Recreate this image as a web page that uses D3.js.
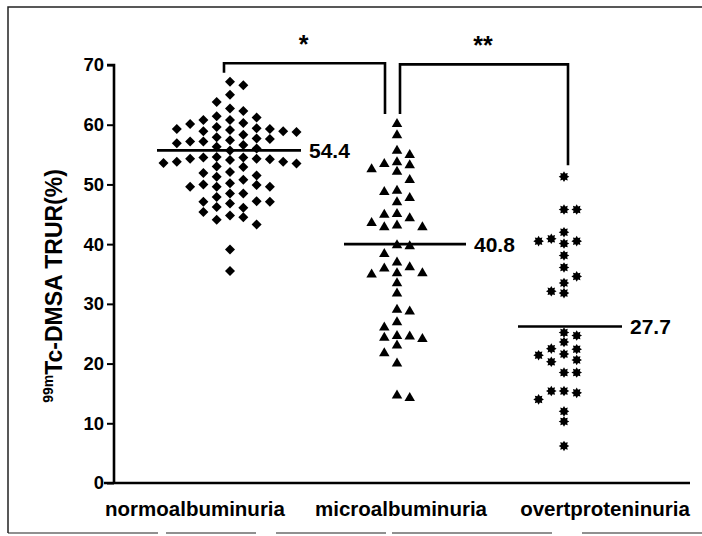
<!DOCTYPE html>
<html>
<head>
<meta charset="utf-8">
<script src="https://cdn.jsdelivr.net/npm/d3@7"></script>
<style>
  html, body { margin: 0; padding: 0; background: #fff; }
  svg { display: block; }
  text { font-family: "Liberation Sans", Arial, sans-serif; font-weight: bold; fill: #000; }
</style>
</head>
<body>
<svg id="chart" width="702" height="536"></svg>
<script>
// ---- data ----
const groups = ["normoalbuminuria", "microalbuminuria", "overtproteninuria"];
const yTicks = [0, 10, 20, 30, 40, 50, 60, 70];

const normo = [67.2, 66.6, 65.0, 63.8, 62.7, 62.3, 61.4, 61.2, 60.8, 60.8, 60.3, 60.1,
  59.6, 59.4, 59.3, 59.3, 59.1, 58.9, 58.9, 58.8, 58.3, 57.9, 57.7, 57.6, 57.4, 57.2, 57.2,
  56.9, 56.6, 56.3, 56.0, 55.7, 54.6, 54.5, 54.5, 54.3, 54.3, 54.2, 54.1, 53.8, 53.8, 53.6,
  53.5, 53.0, 52.9, 52.1, 51.9, 51.5, 51.3, 50.8, 50.2, 50.0, 49.9, 49.6, 49.6, 49.6, 48.5,
  48.5, 47.9, 47.2, 47.1, 47.1, 46.8, 46.2, 46.1, 45.4, 44.8, 44.5, 44.1, 43.3, 39.1, 35.5];

const micro = [60.3, 58.4, 55.8, 55.1, 53.9, 53.6, 53.4, 52.7, 52.3, 50.9, 49.1, 48.9,
  47.9, 47.2, 45.2, 45.1, 44.5, 43.7, 43.3, 43.0, 43.0, 39.8, 40.0, 38.5, 37.1, 36.3, 36.1,
  35.3, 35.1, 35.3, 33.6, 31.9, 29.2, 28.9, 27.1, 26.2, 24.8, 24.7, 24.5, 24.3, 23.2, 21.9,
  20.2, 14.8, 14.4];

const overt = [51.3, 45.8, 45.8, 42.0, 40.9, 40.5, 40.5, 40.1, 38.1, 36.1, 34.6, 33.5,
  32.1, 31.8, 25.2, 24.7, 23.6, 22.5, 22.4, 21.6, 21.4, 20.6, 20.3, 18.5, 18.5, 15.4, 15.1,
  15.4, 14.0, 12.0, 10.3, 6.2];

const lineLevels = [55.7, 40.0, 26.2];      // heights of the horizontal bars
const meanLabels = ["54.4", "40.8", "27.7"]; // printed values
const starLabels = ["*", "**"];

// ---- layout ----
const svg = d3.select("#chart");
const y = d3.scaleLinear().domain([0, 70]).range([483, 65]);
const x = d3.scalePoint().domain(groups).range([230, 564]);
const seriesList = [normo, micro, overt];
const colStep = [13.3, 12.7, 12.7];

// frame
const frame = svg.append("g").attr("stroke", "#222").attr("stroke-width", 1.5).attr("fill", "none");
frame.append("path").attr("d", "M8,533 L8,7 L702,7");
frame.append("path").attr("d", "M8,533 L702,533").attr("stroke-width", 1.2).attr("stroke-dasharray", "150,8,90,20,110,6,160,30");

// y axis
const yAxis = svg.append("g").attr("transform", "translate(114,0)")
  .call(d3.axisLeft(y).tickValues(yTicks).tickSize(7).tickPadding(3).tickFormat(d3.format("d")));
yAxis.select(".domain").attr("stroke", "#000").attr("stroke-width", 2.6).attr("d", `M-7,${y(70)}H0V${y(0)}`);
yAxis.selectAll(".tick line").attr("stroke", "#000").attr("stroke-width", 2);
yAxis.selectAll(".tick text").style("font-size", "18.5px").style("font-family", "'Liberation Sans', Arial, sans-serif").style("font-weight", "bold").attr("fill", "#000");

// x axis line
svg.append("line").attr("x1", 104).attr("x2", 690).attr("y1", y(0)).attr("y2", y(0))
  .attr("stroke", "#000").attr("stroke-width", 2.6);

// x labels
const labelDx = [-35, 4, 41];
svg.append("g").selectAll("text").data(groups).join("text")
  .attr("x", (d, i) => x(d) + labelDx[i]).attr("y", 516)
  .attr("text-anchor", "middle").style("font-size", "20.5px").text(d => d);

// y title
const yt = svg.append("text")
  .attr("transform", "translate(62,286) rotate(-90)")
  .attr("text-anchor", "middle").style("font-size", "23px");
yt.append("tspan").style("font-size", "14px").attr("dy", "-9").text("99m");
yt.append("tspan").attr("dy", "9").text("Tc-DMSA TRUR(%)");

// symbols
const diamond = (s) => `M0,${-s}L${s},0L0,${s}L${-s},0Z`;
const triangle = (s) => `M0,${-s}L${s * 1.05},${s * 0.8}L${-s * 1.05},${s * 0.8}Z`;
const star = (r) => {
  const pts = [];
  for (let k = 0; k < 16; k++) {
    const a = Math.PI * k / 8 - Math.PI / 2;
    const rr = k % 2 === 0 ? r : r * 0.64;
    pts.push([rr * Math.cos(a), rr * Math.sin(a)]);
  }
  return "M" + pts.map(p => p[0].toFixed(2) + "," + p[1].toFixed(2)).join("L") + "Z";
};
const shapes = [diamond(5), triangle(5), star(5.3)];

// simple column-scatter layout (greedy, closest free column to centre)
function layout(vals, step) {
  const sorted = vals.map((v, i) => ({ v, i })).sort((a, b) => b.v - a.v);
  const placed = [];
  const minDy = 9.5;
  let flip = 1;
  sorted.forEach(p => {
    const py = y(p.v);
    for (let k = 0; k < 20; k++) {
      const cands = k === 0 ? [0] : [k * flip, -k * flip];
      let done = false;
      for (const c of cands) {
        const clash = placed.some(q => q.c === c && Math.abs(q.py - py) < minDy);
        if (!clash) { placed.push({ v: p.v, py, c }); done = true; break; }
      }
      if (done) { if (k > 0) flip = -flip; break; }
    }
  });
  return placed.map(q => ({ v: q.v, c: q.c, step }));
}

seriesList.forEach((vals, gi) => {
  const pts = layout(vals, colStep[gi]);
  svg.append("g").selectAll("path").data(pts).join("path")
    .attr("d", shapes[gi])
    .attr("transform", d => `translate(${x(groups[gi]) + d.c * d.step},${y(d.v)})`)
    .attr("fill", "#000");
});

// mean bars and labels
const barHalf = [72, 61, 52];
const barShift = [-1, 8, 6];
lineLevels.forEach((lv, i) => {
  const cx = x(groups[i]) + barShift[i];
  svg.append("line").attr("x1", cx - barHalf[i]).attr("x2", cx + barHalf[i])
    .attr("y1", y(lv)).attr("y2", y(lv)).attr("stroke", "#000").attr("stroke-width", 2.6);
  svg.append("text").attr("x", cx + barHalf[i] + 8).attr("y", y(lv) + 7.5)
    .style("font-size", "21px").text(meanLabels[i]);
});

// significance brackets
const brackets = [
  { a: 0, b: 1, top: 70.3, endA: 68.7, endB: 61.8, dxA: -6, dxB: -12 },
  { a: 1, b: 2, top: 70.1, endA: 61.8, endB: 53.2, dxA: 3, dxB: 4 }
];
brackets.forEach((br, i) => {
  const xa = x(groups[br.a]) + br.dxA, xb = x(groups[br.b]) + br.dxB;
  svg.append("path")
    .attr("d", `M${xa},${y(br.endA)}V${y(br.top)}H${xb}V${y(br.endB)}`)
    .attr("fill", "none").attr("stroke", "#000").attr("stroke-width", 2.6);
  svg.append("text").attr("x", (xa + xb) / 2 - 1).attr("y", y(br.top) - 10)
    .attr("text-anchor", "middle").style("font-size", "25px").text(starLabels[i]);
});
</script>
</body>
</html>
